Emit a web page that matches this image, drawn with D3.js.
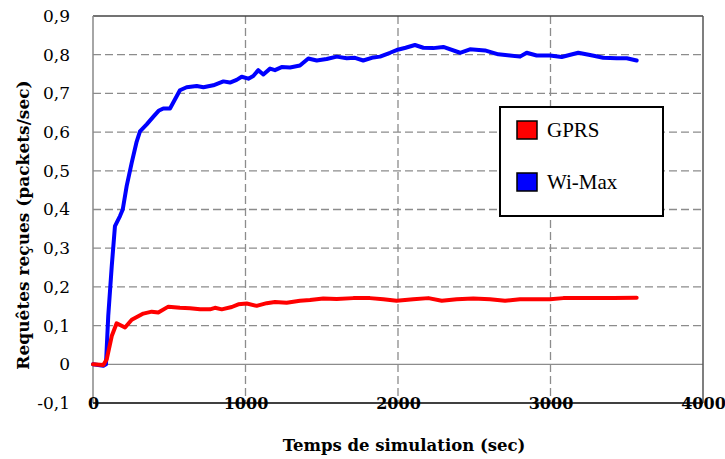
<!DOCTYPE html>
<html>
<head>
<meta charset="utf-8">
<script src="https://cdn.jsdelivr.net/npm/d3@7"></script>
<style>
  html, body { margin: 0; padding: 0; background: #fff; }
  svg { display: block; }
</style>
</head>
<body>
<svg id="chart" width="725" height="459"></svg>
<script>
// Simulation time (sec) and received request rate (packets/sec) per technology
const seriesNames = ["GPRS", "Wi-Max"];
const seriesColors = ["#ff0000", "#0000ff"];

const gprsTime = [0, 68, 90, 123, 155, 210, 254, 330, 385, 428, 494, 570, 636, 702, 767, 800, 844, 910, 953, 1008,
  1073, 1139, 1193, 1270, 1357, 1423, 1510, 1598, 1707, 1816, 1904, 1991, 2100, 2199, 2287, 2385, 2494, 2603,
  2702, 2800, 2909, 2997, 3084, 3193, 3303, 3412, 3565];
const gprsValues = [0, -0.002, 0.013, 0.073, 0.106, 0.095, 0.115, 0.131, 0.136, 0.134, 0.149, 0.146, 0.145, 0.142,
  0.142, 0.146, 0.142, 0.148, 0.155, 0.157, 0.151, 0.158, 0.161, 0.159, 0.164, 0.166, 0.170, 0.169, 0.171, 0.171,
  0.168, 0.164, 0.168, 0.171, 0.164, 0.168, 0.170, 0.168, 0.164, 0.168, 0.168, 0.168, 0.171, 0.171, 0.171, 0.171, 0.172];

const wimaxTime = [0, 68, 85, 100, 123, 144, 177, 195, 221, 254, 286, 308, 352, 396, 430, 461, 505, 538, 570, 614,
  680, 724, 789, 855, 898, 942, 975, 1019, 1051, 1084, 1117, 1161, 1193, 1237, 1292, 1357, 1412, 1467, 1532, 1598,
  1664, 1718, 1772, 1838, 1882, 1948, 1991, 2050, 2111, 2166, 2231, 2297, 2407, 2472, 2570, 2658, 2734, 2800, 2844,
  2909, 2997, 3073, 3182, 3259, 3346, 3434, 3500, 3565];
const wimaxValues = [0, -0.004, 0, 0.125, 0.254, 0.357, 0.383, 0.400, 0.461, 0.521, 0.575, 0.602, 0.620, 0.640, 0.655,
  0.661, 0.661, 0.685, 0.708, 0.716, 0.719, 0.716, 0.721, 0.731, 0.728, 0.735, 0.743, 0.738, 0.745, 0.760, 0.749,
  0.764, 0.760, 0.768, 0.767, 0.772, 0.790, 0.785, 0.789, 0.795, 0.791, 0.792, 0.785, 0.793, 0.795, 0.805, 0.812,
  0.818, 0.825, 0.818, 0.817, 0.820, 0.805, 0.814, 0.811, 0.801, 0.798, 0.795, 0.805, 0.798, 0.798, 0.794, 0.805,
  0.799, 0.792, 0.791, 0.791, 0.785];

const xTicks = [0, 1000, 2000, 3000, 4000];
const yTicks = [-0.1, 0, 0.1, 0.2, 0.3, 0.4, 0.5, 0.6, 0.7, 0.8, 0.9];

const xTitle = "Temps de simulation (sec)";
const yTitle = "Requêtes reçues (packets/sec)";

const svg = d3.select("#chart");
const plot = { left: 93, right: 703, top: 16, bottom: 403 };

const x = d3.scaleLinear().domain([0, 4000]).range([plot.left, plot.right]);
const y = d3.scaleLinear().domain([-0.1, 0.9]).range([plot.bottom, plot.top]);
// decimal comma, plain hyphen for negatives, bare "0" at zero
const fmt = v => {
  const s = Math.abs(v) < 1e-9 ? "0" : Math.abs(v).toFixed(1).replace(".", ",");
  return v < -1e-9 ? "-" + s : s;
};

const gridColor = "#8c8c8c";

// horizontal grid: dashed, with a solid line at zero
svg.append("g").selectAll("line")
  .data(yTicks.filter(v => v > -0.1 && v < 0.9))
  .join("line")
  .attr("x1", plot.left).attr("x2", plot.right)
  .attr("y1", d => y(d)).attr("y2", d => y(d))
  .attr("stroke", gridColor)
  .attr("stroke-width", 1.3)
  .attr("stroke-dasharray", d => Math.abs(d) < 1e-9 ? null : "8,4");

// vertical grid
svg.append("g").selectAll("line")
  .data(xTicks.filter(v => v > 0 && v < 4000))
  .join("line")
  .attr("x1", d => x(d)).attr("x2", d => x(d))
  .attr("y1", plot.top).attr("y2", plot.bottom)
  .attr("stroke", gridColor)
  .attr("stroke-width", 1.3)
  .attr("stroke-dasharray", "8,4");

// frame
svg.append("line").attr("x1", plot.left).attr("x2", plot.right).attr("y1", plot.top).attr("y2", plot.top)
  .attr("stroke", "#444").attr("stroke-width", 1.5);
svg.append("line").attr("x1", plot.left).attr("x2", plot.left).attr("y1", plot.top).attr("y2", plot.bottom)
  .attr("stroke", "#888").attr("stroke-width", 1.5);
svg.append("line").attr("x1", plot.right).attr("x2", plot.right).attr("y1", plot.top).attr("y2", plot.bottom)
  .attr("stroke", "#555").attr("stroke-width", 1.5);

// series lines
const line = d3.line().x(d => x(d[0])).y(d => y(d[1]));
const series = [
  { name: seriesNames[1], color: seriesColors[1], pts: d3.zip(wimaxTime, wimaxValues) },
  { name: seriesNames[0], color: seriesColors[0], pts: d3.zip(gprsTime, gprsValues) }
];
svg.append("g").selectAll("path")
  .data(series)
  .join("path")
  .attr("d", d => line(d.pts))
  .attr("fill", "none")
  .attr("stroke", d => d.color)
  .attr("stroke-width", 4)
  .attr("stroke-linejoin", "round")
  .attr("stroke-linecap", "round");

// x axis along the bottom (-0,1) line, labels sitting on the line
const xAxis = svg.append("g")
  .attr("transform", `translate(0,${plot.bottom})`)
  .call(d3.axisBottom(x).tickValues(xTicks).tickSize(0).tickFormat(d3.format("d")));
xAxis.select(".domain").attr("stroke", "#404040").attr("stroke-width", 2.2).attr("d", `M${plot.left},0H${plot.right}`);
xAxis.selectAll("text")
  .attr("y", 0).attr("dy", "0.36em")
  .attr("fill", "#000")
  .style("font-family", "'DejaVu Serif', serif")
  .style("font-size", "16px")
  .style("font-weight", "bold");

// y axis labels
const yAxis = svg.append("g")
  .attr("transform", `translate(${plot.left},0)`)
  .call(d3.axisLeft(y).tickValues(yTicks).tickSize(0).tickPadding(23).tickFormat(fmt));
yAxis.select(".domain").remove();
yAxis.selectAll("text")
  .attr("fill", "#000")
  .style("font-family", "'DejaVu Serif', serif")
  .style("font-size", "17px");

// axis titles
svg.append("text")
  .attr("x", 404).attr("y", 451)
  .attr("text-anchor", "middle")
  .style("font-family", "'DejaVu Serif', serif")
  .style("font-size", "16.5px")
  .style("font-weight", "bold")
  .text(xTitle);

svg.append("text")
  .attr("transform", "translate(29,225) rotate(-90)")
  .attr("text-anchor", "middle")
  .style("font-family", "'DejaVu Serif', serif")
  .style("font-size", "17px")
  .style("font-weight", "bold")
  .text(yTitle);

// legend
const legend = svg.append("g").attr("transform", "translate(500,107)");
legend.append("rect")
  .attr("width", 163).attr("height", 109)
  .attr("fill", "#fff").attr("stroke", "#000").attr("stroke-width", 2);
const items = legend.selectAll("g.item")
  .data(seriesNames)
  .join("g")
  .attr("class", "item")
  .attr("transform", (d, i) => `translate(17,${14 + i * 52})`);
items.append("rect")
  .attr("width", 20).attr("height", 18)
  .attr("fill", (d, i) => seriesColors[i])
  .attr("stroke", "#000").attr("stroke-width", 1.5);
items.append("text")
  .attr("x", 30).attr("y", 16)
  .style("font-family", "'Liberation Serif', 'Times New Roman', serif")
  .style("font-size", "21px")
  .text(d => d);
</script>
</body>
</html>
